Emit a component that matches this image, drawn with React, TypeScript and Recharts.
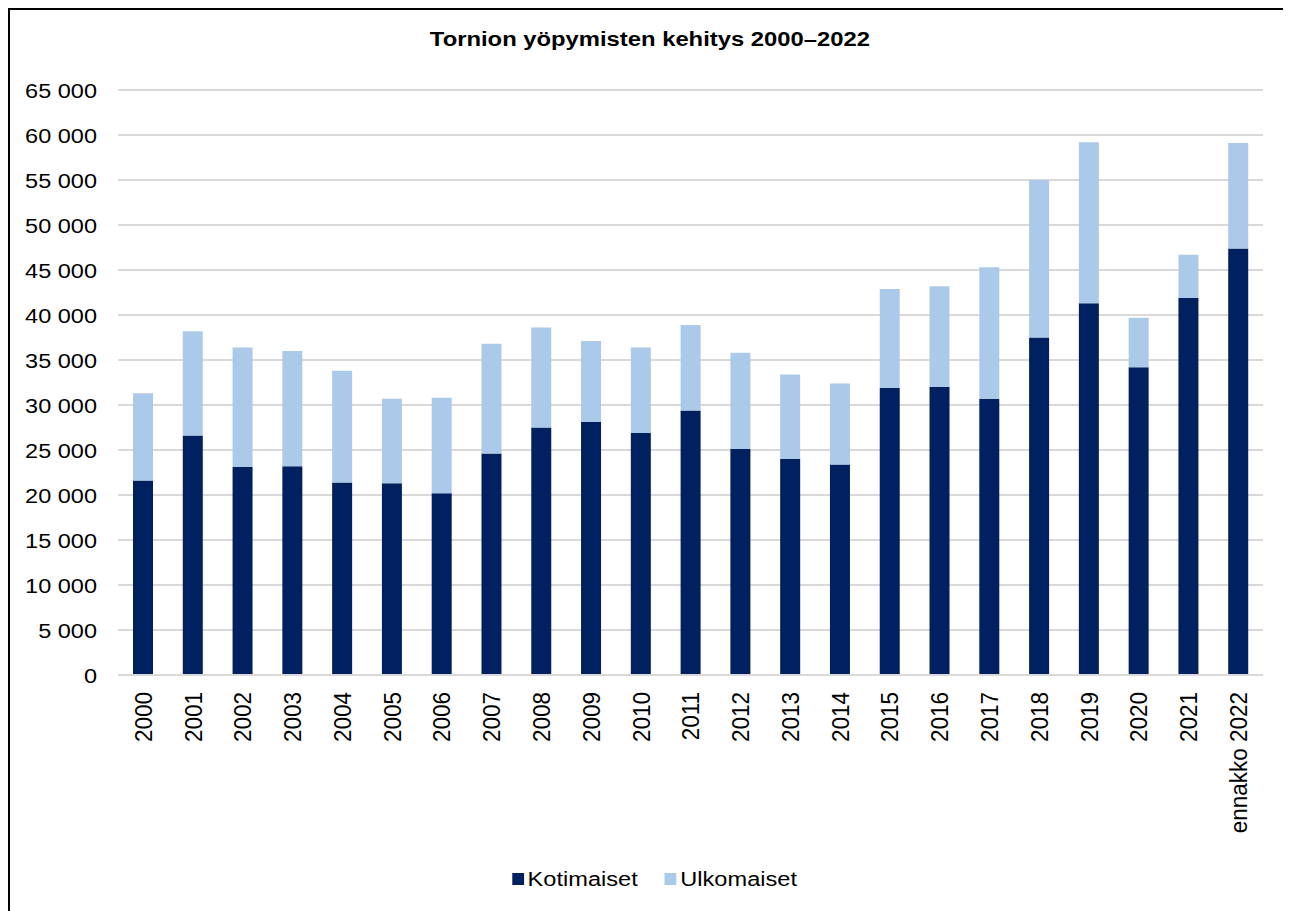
import React from 'react';
import { BarChart, Bar, XAxis, YAxis, CartesianGrid, Legend } from 'recharts';

const years = ['2000', '2001', '2002', '2003', '2004', '2005', '2006', '2007', '2008', '2009', '2010', '2011', '2012', '2013', '2014', '2015', '2016', '2017', '2018', '2019', '2020', '2021', 'ennakko 2022'];
const kotimaiset = [21600, 26600, 23100, 23200, 21400, 21300, 20200, 24600, 27500, 28100, 26900, 29400, 25100, 24000, 23400, 31900, 32000, 30700, 37500, 41300, 34200, 41900, 47400];
const ulkomaiset = [9700, 11600, 13300, 12800, 12400, 9400, 10600, 12200, 11100, 9000, 9500, 9500, 10700, 9400, 9000, 11000, 11200, 14600, 17500, 17900, 5500, 4800, 11700];
const yTicks = [0, 5000, 10000, 15000, 20000, 25000, 30000, 35000, 40000, 45000, 50000, 55000, 60000, 65000];
const seriesNames = ['Kotimaiset', 'Ulkomaiset'];
const seriesColors = ['#002060', '#ABCAE9'];
const title = 'Tornion yöpymisten kehitys 2000–2022';

const data = years.map((y, i) => ({ year: y, kotimaiset: kotimaiset[i], ulkomaiset: ulkomaiset[i] }));

const FONT = '"Liberation Sans", Arial, sans-serif';

const fmt = (v: number) => String(v).replace(/\B(?=(\d{3})+(?!\d))/g, ' ');

const YTick = (props: any) => {
  const { x, y, payload } = props;
  const fs = 21;
  return (
    <text
      x={0}
      y={fs * 0.358}
      transform={`translate(${x},${y}) scale(1.12,1)`}
      textAnchor="end"
      fontSize={fs}
      fontFamily={FONT}
      fill="#000"
    >
      {fmt(payload.value)}
    </text>
  );
};

const XTick = (props: any) => {
  const { x, y, payload } = props;
  const fs = 22.5;
  return (
    <text
      x={0}
      y={fs * 0.358}
      transform={`translate(${x},${y}) scale(1.1,1) rotate(-90)`}
      textAnchor="end"
      fontSize={fs}
      fontFamily={FONT}
      fill="#000"
    >
      {payload.value}
    </text>
  );
};

const LegendContent = () => (
  <div
    style={{
      display: 'flex',
      justifyContent: 'center',
      alignItems: 'center',
      height: 30,
      paddingLeft: 18,
      fontFamily: FONT,
      fontSize: 20,
      color: '#000',
    }}
  >
    <div style={{ display: 'flex', alignItems: 'center', transform: 'scaleX(1.18)' }}>
      {seriesNames.map((n, i) => (
        <div key={n} style={{ display: 'flex', alignItems: 'center', marginRight: i === 0 ? 23 : 0 }}>
          <div style={{ width: 10, height: 12, background: seriesColors[i], marginRight: 3 }} />
          <span>{n}</span>
        </div>
      ))}
    </div>
  </div>
);

export default function App() {
  return (
    <div style={{ position: 'relative', width: 1275, height: 903, overflow: 'hidden' }}>
      <div style={{ position: 'absolute', left: 0, top: 0 }}>
        <BarChart
          width={1275}
          height={903}
          data={data}
          margin={{ top: 82, right: 20, left: 10, bottom: 17 }}
          barSize={20}
        >
          <CartesianGrid vertical={false} stroke="#d9d9d9" strokeWidth={2} />
          <XAxis
            dataKey="year"
            interval={0}
            height={189}
            tickLine={false}
            tickMargin={11}
            axisLine={{ stroke: '#d9d9d9', strokeWidth: 2 }}
            tick={<XTick />}
          />
          <YAxis
            width={100}
            domain={[0, 65000]}
            ticks={yTicks}
            interval={0}
            tickLine={false}
            axisLine={false}
            tickMargin={15}
            tick={<YTick />}
          />
          <Legend
            verticalAlign="bottom"
            content={<LegendContent />}
            wrapperStyle={{ left: 0, width: 1275 }}
          />
          <Bar dataKey="kotimaiset" name={seriesNames[0]} stackId="a" fill={seriesColors[0]} isAnimationActive={false} />
          <Bar dataKey="ulkomaiset" name={seriesNames[1]} stackId="a" fill={seriesColors[1]} isAnimationActive={false} />
        </BarChart>
      </div>
      <div
        style={{
          position: 'absolute',
          left: 0,
          top: 19,
          width: 1275,
          paddingLeft: 9,
          boxSizing: 'border-box',
          textAlign: 'center',
          fontFamily: FONT,
          fontWeight: 'bold',
          fontSize: 20,
          lineHeight: '24px',
          color: '#000',
          zIndex: 2,
        }}
      >
        <span style={{ display: 'inline-block', transform: 'scaleX(1.19)' }}>{title}</span>
      </div>
      <div
        style={{
          position: 'absolute',
          left: 0,
          top: 0,
          width: 1300,
          height: 940,
          borderLeft: '2px solid #000',
          borderTop: '2px solid #000',
          boxSizing: 'border-box',
          pointerEvents: 'none',
          zIndex: 3,
        }}
      />
    </div>
  );
}
